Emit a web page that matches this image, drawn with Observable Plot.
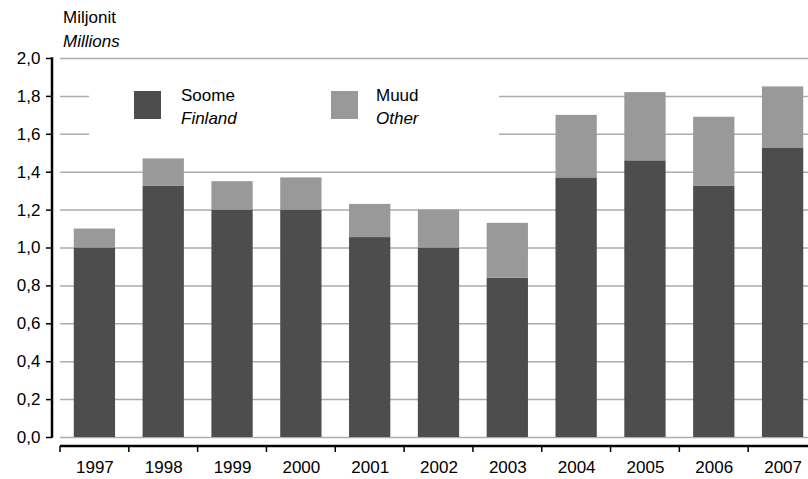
<!DOCTYPE html>
<html>
<head>
<meta charset="utf-8">
<script src="https://cdn.jsdelivr.net/npm/d3@7"></script>
<script src="https://cdn.jsdelivr.net/npm/@observablehq/plot@0.6"></script>
<style>
  body { margin: 0; background: #fff; }
  #wrap { position: relative; width: 808px; height: 479px; overflow: hidden; background: #fff;
          font-family: "Liberation Sans", Arial, sans-serif; color: #000; }
  #wrap svg { position: absolute; left: 0; top: 0; }
  .abs { position: absolute; }
  .title { left: 63px; top: 6px; font-size: 17px; line-height: 23.5px; }
  .lgbox { left: 89px; top: 72px; width: 410px; height: 76px; background: #fff; }
  .sw { width: 27px; height: 28px; }
  .lt { font-size: 17px; line-height: 23px; }
  i { font-style: italic; }
</style>
</head>
<body>
<div id="wrap"></div>
<script>
// ---- data ----
const years   = ["1997","1998","1999","2000","2001","2002","2003","2004","2005","2006","2007"];
const finland = [1.00, 1.325, 1.20, 1.20, 1.055, 1.00, 0.84, 1.37, 1.46, 1.325, 1.525];
const other   = [0.10, 0.145, 0.15, 0.17, 0.175, 0.20, 0.29, 0.33, 0.36, 0.365, 0.325];
const seriesNames = ["Soome", "Muud"];
const seriesNamesEn = ["Finland", "Other"];
const seriesColors = ["#4d4d4d", "#999999"];
const yTicks = [0, 0.2, 0.4, 0.6, 0.8, 1.0, 1.2, 1.4, 1.6, 1.8, 2.0];
const titleLines = ["Miljonit", "Millions"];

const rows = years.flatMap((yr, i) => [
  {year: yr, series: seriesNames[0], value: finland[i]},
  {year: yr, series: seriesNames[1], value: other[i]}
]);

const W = 808, H = 479, mL = 60, mT = 58, mB = 42;

const chart = Plot.plot({
  width: W, height: H,
  marginTop: mT, marginBottom: mB, marginLeft: mL, marginRight: 0,
  style: {fontFamily: "'Liberation Sans', Arial, sans-serif", fontSize: "17px", color: "#000", background: "transparent", overflow: "visible"},
  x: {type: "band", domain: years, range: [mL, 817], paddingInner: 0.4, paddingOuter: 0.2, round: false, label: null},
  y: {domain: [0, 2], label: null},
  color: {domain: seriesNames, range: seriesColors},
  marks: [
    Plot.ruleY(yTicks, {stroke: "#adadad", strokeWidth: 1.5}),
    Plot.barY(rows, {x: "year", y: "value", fill: "series", order: seriesNames}),
    Plot.axisY(yTicks, {tickFormat: d => d.toFixed(1).replace(".", ","), tickSize: 6, tickPadding: 6, dx: -8,
                        stroke: "#000", strokeWidth: 1.5, fontSize: 17, label: null}),
    Plot.axisX({tickSize: 0, tickPadding: 23, fontSize: 17, label: null})
  ]
});

const wrap = document.getElementById("wrap");
wrap.appendChild(chart);

// axis lines drawn from the library's scales
const xs = chart.scale("x"), ys = chart.scale("y");
const svg = d3.select(chart);
const y0 = ys.apply(0), yTop = ys.apply(2);
svg.append("line").attr("x1", mL - 8).attr("x2", mL - 8).attr("y1", yTop - 0.75).attr("y2", y0 + 0.75)
  .attr("stroke", "#000").attr("stroke-width", 2.5);
const xAxisY = y0 + 9;
svg.append("line").attr("x1", mL).attr("x2", W).attr("y1", xAxisY).attr("y2", xAxisY)
  .attr("stroke", "#000").attr("stroke-width", 2.5);
const half = xs.step * xs.paddingInner / 2;
years.forEach(yr => {
  const bx = xs.apply(yr) - half;
  svg.append("line").attr("x1", bx).attr("x2", bx).attr("y1", xAxisY).attr("y2", xAxisY + 6)
    .attr("stroke", "#000").attr("stroke-width", 1.5);
});

// title
const t = document.createElement("div");
t.className = "abs title";
t.innerHTML = titleLines[0] + "<br><i>" + titleLines[1] + "</i>";
wrap.appendChild(t);

// legend
const box = document.createElement("div");
box.className = "abs lgbox";
wrap.appendChild(box);
const lg = [{sx: 134, tx: 181}, {sx: 331, tx: 376}];
seriesNames.forEach((s, i) => {
  const sw = document.createElement("div");
  sw.className = "abs sw";
  sw.style.left = lg[i].sx + "px"; sw.style.top = "91px"; sw.style.background = seriesColors[i];
  wrap.appendChild(sw);
  const tx = document.createElement("div");
  tx.className = "abs lt";
  tx.style.left = lg[i].tx + "px"; tx.style.top = "83.5px";
  tx.innerHTML = s + "<br><i>" + seriesNamesEn[i] + "</i>";
  wrap.appendChild(tx);
});
</script>
</body>
</html>
